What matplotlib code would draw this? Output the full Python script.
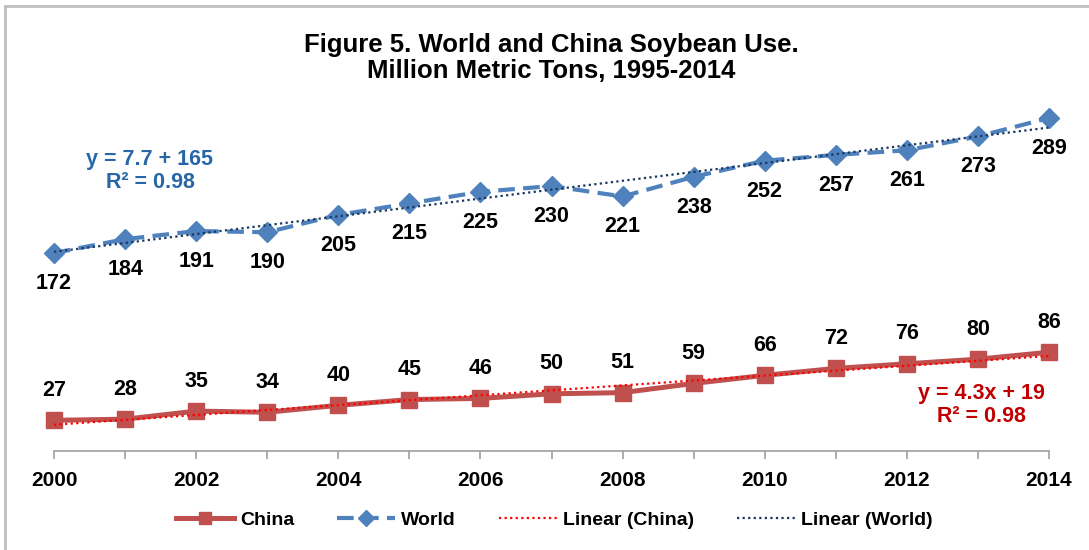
import numpy as np
import matplotlib
matplotlib.use("Agg")
import matplotlib.pyplot as plt
from matplotlib.lines import Line2D

plt.rcParams['font.family'] = ['Liberation Sans', 'DejaVu Sans']

# ---- data ----
years = [2000, 2001, 2002, 2003, 2004, 2005, 2006, 2007, 2008, 2009, 2010, 2011, 2012, 2013, 2014]
china = [27, 28, 35, 34, 40, 45, 46, 50, 51, 59, 66, 72, 76, 80, 86]
world = [172, 184, 191, 190, 205, 215, 225, 230, 221, 238, 252, 257, 261, 273, 289]
tick_labels = [str(y) if y % 2 == 0 else "" for y in years]
title = "Figure 5. World and China Soybean Use.\nMillion Metric Tons, 1995-2014"
world_eq = "y = 7.7 + 165\nR² = 0.98"
china_eq = "y = 4.3x + 19\nR² = 0.98"

# colors
c_china = "#C0504D"
c_world = "#4F81BD"
c_china_trend = "#FF0000"
c_world_trend = "#17375E"
c_world_eq = "#2767A8"
c_china_eq = "#C00000"

fig = plt.figure(figsize=(10.89, 5.5), dpi=100)
ax = fig.add_axes([0.0496, 0.1791, 0.9137, 0.6295])

x = np.array(years)
idx = np.arange(1, len(years) + 1)

# trend lines (linear fit)
pc = np.polyfit(idx, china, 1)
pw = np.polyfit(idx, world, 1)

ax.plot(x, china, color=c_china, lw=3.6, marker='s', ms=11.5, mec=c_china, mfc=c_china,
        clip_on=False, zorder=3, label="China")
ax.plot(x, world, color=c_world, lw=3.0, ls=(0, (4, 2)), marker='D', ms=10.5, mec=c_world,
        mfc=c_world, clip_on=False, zorder=3, label="World")
ax.plot(x, np.polyval(pc, idx), color=c_china_trend, lw=1.6, ls=(0, (1, 1.5)), zorder=4,
        clip_on=False, label="Linear (China)")
ax.plot(x, np.polyval(pw, idx), color=c_world_trend, lw=1.6, ls=(0, (1, 1.5)), zorder=4,
        clip_on=False, label="Linear (World)")

for xi, v in zip(x, china):
    ax.annotate(str(v), (xi, v), xytext=(0, 21.5), textcoords='offset points',
                ha='center', va='center', fontsize=15.5, fontweight='bold', color='black')
for xi, v in zip(x, world):
    ax.annotate(str(v), (xi, v), xytext=(0, -22), textcoords='offset points',
                ha='center', va='center', fontsize=15.5, fontweight='bold', color='black')

ax.set_xlim(2000, 2014)
ax.set_ylim(0, 300)
ax.set_yticks([])
for s in ['left', 'right', 'top']:
    ax.spines[s].set_visible(False)
ax.spines['bottom'].set_color('#A0A0A0')
ax.spines['bottom'].set_linewidth(1.2)
ax.set_xticks(years)
ax.set_xticklabels(tick_labels, fontsize=15, fontweight='bold')
ax.tick_params(axis='x', direction='out', length=6, width=1.2, color='#A0A0A0', pad=8)
ax.patch.set_alpha(0)

# equation annotations
fig.text(150 / 1089, 1 - 171 / 550, world_eq, ha='center', va='center', fontsize=15.5,
         fontweight='bold', color=c_world_eq, linespacing=1.1)
fig.text(981 / 1089, 1 - 405 / 550, china_eq, ha='center', va='center', fontsize=15.5,
         fontweight='bold', color=c_china_eq, linespacing=1.1)

# title
fig.text(551 / 1089, 1 - 58 / 550, title, ha='center', va='center', fontsize=18.5,
         fontweight='bold', color='black', linespacing=1.15)

# legend
handles, labels = ax.get_legend_handles_labels()
fig.legend(handles, labels, loc='center', bbox_to_anchor=(554 / 1089, 1 - 520 / 550), ncol=4,
           frameon=False, prop={'weight': 'bold', 'size': 14}, handlelength=3.0,
           columnspacing=2.2, handletextpad=0.3, markerscale=0.8)

# frame border lines (top and left)
fig.add_artist(Line2D([5 / 1089, 1], [1 - 6 / 550, 1 - 6 / 550], color='#BFBFBF', lw=2,
                      transform=fig.transFigure))
fig.add_artist(Line2D([5 / 1089, 5 / 1089], [0, 1 - 6 / 550], color='#BFBFBF', lw=2,
                      transform=fig.transFigure))

fig.savefig("out.png", dpi=100)
